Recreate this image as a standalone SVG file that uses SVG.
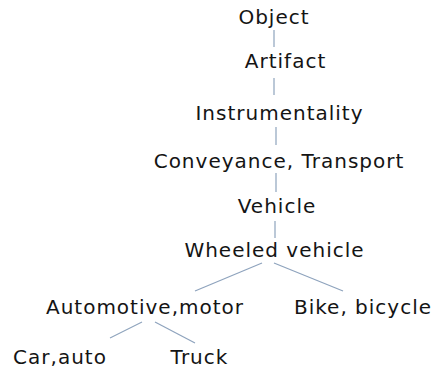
<svg xmlns="http://www.w3.org/2000/svg" width="438" height="369" viewBox="0 0 438 369">
<style>
  text { font-family: "DejaVu Sans", "Liberation Sans", sans-serif; font-size: 20px; letter-spacing: 1px; fill: #141414; text-anchor: middle; }
  .edge { stroke: #8ea3bd; stroke-width: 1.2; fill: none; }
</style>
<rect width="438" height="369" fill="#ffffff"/>
<g id="connectors">
  <line class="edge" x1="274" y1="30" x2="274" y2="47"/>
  <line class="edge" x1="274" y1="78" x2="274" y2="95"/>
  <line class="edge" x1="276" y1="127" x2="276" y2="145"/>
  <line class="edge" x1="276" y1="173" x2="276" y2="192"/>
  <line class="edge" x1="275" y1="221" x2="275" y2="238"/>
  <line class="edge" x1="262" y1="263" x2="195" y2="291"/>
  <line class="edge" x1="274" y1="263" x2="343" y2="291"/>
  <line class="edge" x1="142" y1="322" x2="110" y2="338"/>
  <line class="edge" x1="155" y1="322" x2="195" y2="343"/>
</g>
<g id="object"><text x="274" y="24">Object</text></g>
<g id="artifact"><text x="285.5" y="68">Artifact</text></g>
<g id="instrumentality"><text x="279.5" y="120">Instrumentality</text></g>
<g id="conveyance"><text x="279" y="168">Conveyance, Transport</text></g>
<g id="vehicle"><text x="277" y="213">Vehicle</text></g>
<g id="wheeled-vehicle"><text x="274.5" y="257">Wheeled vehicle</text></g>
<g id="automotive"><text x="145" y="314">Automotive,motor</text></g>
<g id="bike"><text x="363" y="314">Bike, bicycle</text></g>
<g id="car"><text x="60" y="364">Car,auto</text></g>
<g id="truck"><text x="199.5" y="364">Truck</text></g>
</svg>
